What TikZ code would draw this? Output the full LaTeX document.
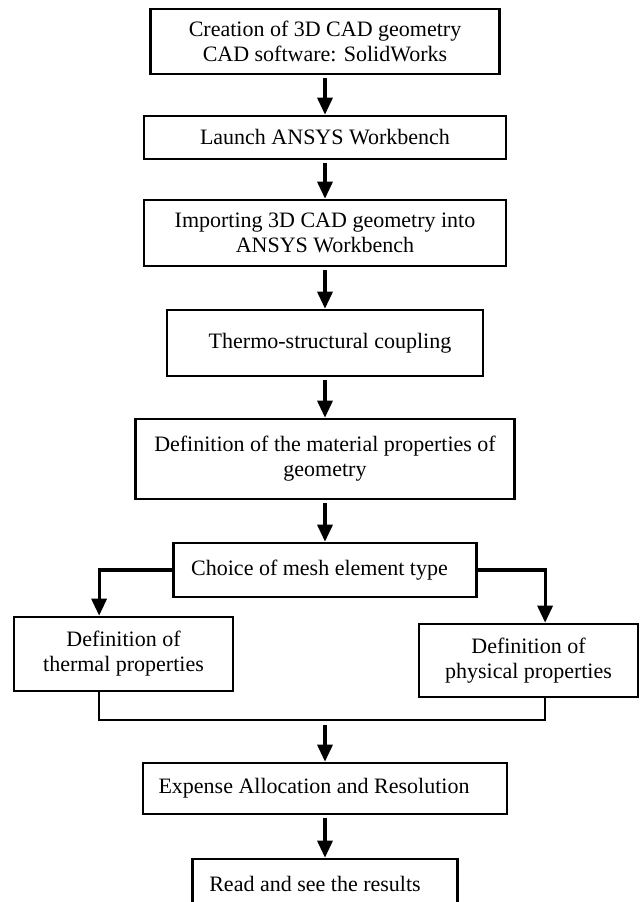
\documentclass[tikz,border=0pt]{standalone}
\usepackage{fontspec}
\setmainfont{Liberation Serif}
\usetikzlibrary{arrows.meta, calc}

\begin{document}
\begin{tikzpicture}[
        x=0.5pt, y=-0.5pt,
        >={Triangle[width=7.5pt, length=8.5pt]},
        box/.style={draw, line width=1.3pt, align=center, inner sep=0pt,
          font=\fontsize{11}{12.5}\selectfont},
        flow/.style={->, line width=1.6pt},
        link/.style={line width=1.3pt},
      ]

      \clip (0,0) rectangle (641,902);

      \node[box, minimum width=174.5pt, minimum height=32.5pt] (cad) at (325,41.5)
        {Creation of 3D CAD geometry\\CAD software: SolidWorks};
      \node[box, minimum width=181pt, minimum height=21.5pt] (launch) at (325,137.5)
        {Launch ANSYS Workbench};
      \node[box, minimum width=181pt, minimum height=33pt] (import) at (325,233)
        {Importing 3D CAD geometry into\\ANSYS Workbench};
      \node[box, minimum width=158pt, minimum height=33pt] (coupling) at (325,343)
        {\kern5pt Thermo-structural coupling};
      \node[box, minimum width=189.5pt, minimum height=40pt] (material) at (325,459)
        {Definition of the material properties of\\geometry};
      \node[box, minimum width=151.5pt, minimum height=27pt] (mesh) at (325,570)
        {Choice of mesh element type\kern5.5pt};

      \node[box, minimum width=109.5pt, minimum height=37pt] (thermal) at (123.5,654)
        {Definition of\\thermal properties};
      \node[box, minimum width=109.5pt, minimum height=36.5pt] (physical) at (528.5,660.5)
        {Definition of\\physical properties};

      \node[box, minimum width=182pt, minimum height=25.5pt] (solve) at (325,788.5)
        {Expense Allocation and Resolution\kern11pt};
      \node[box, minimum width=132.5pt, minimum height=25pt] (read) at (325,884)
        {Read and see the results\kern10pt};

      \coordinate (join) at (325,720);

      \path[flow, shorten <=1.5pt]
      (cad) edge (launch)
      (launch) edge (import)
      (import) edge (coupling)
      (coupling) edge (material)
      (material) edge (mesh)
      (solve) edge (read);

      \draw[flow] (mesh.west) -| ($(thermal.north west)!0.39!(thermal.north east)$);
      \draw[flow] (mesh.east) -| ($(physical.north west)!0.575!(physical.north east)$);

      \draw[link] ($(thermal.south west)!0.39!(thermal.south east)$) |- (join)
        -| ($(physical.south west)!0.575!(physical.south east)$);
      \draw[flow, shorten <=2.5pt] (join) -- (solve);
    \end{tikzpicture}
\end{document}
